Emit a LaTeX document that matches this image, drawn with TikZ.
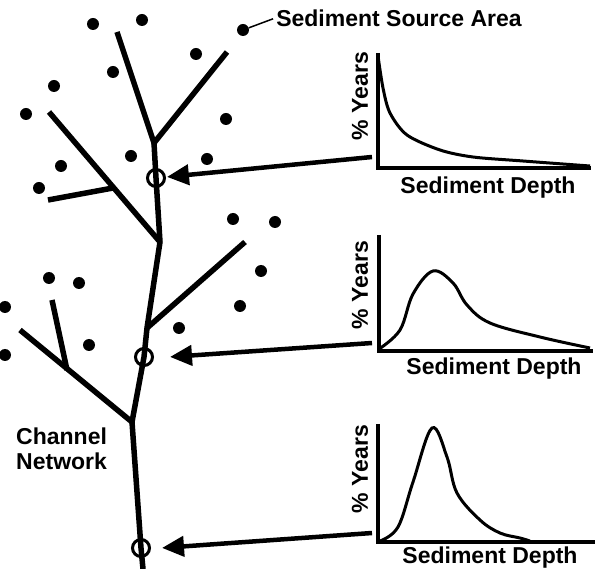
\documentclass[tikz,border=0pt]{standalone}
\usepackage{fontspec}
\setmainfont{Liberation Sans}
\usetikzlibrary{arrows.meta,positioning}

\begin{document}
\begin{tikzpicture}[x=1pt, y=-1pt,
        channel/.style={line width=5.5pt, line join=miter},
        source/.style={circle, fill=black, inner sep=0pt, minimum size=12pt},
        site/.style={circle, draw, line width=3pt, inner sep=0pt, minimum size=17pt},
        feed/.style={line width=4.5pt, -{Triangle[length=22pt, width=20pt]}, shorten >=1pt},
        axis/.style={line width=3.5pt},
        curve/.style={line width=3pt},
        lab/.style={font=\fontsize{23}{25}\selectfont\bfseries, inner sep=0pt}
    ]
        \useasboundingbox (0,0) rectangle (595,569);

        % Channel Network
        \draw[channel] (143,569) -- (141,548) -- (132,422) -- (144,357) -- (147,328) -- (160,242) -- (156,178) -- (154,143);
        \draw[channel] (117,32) -- (154,143) -- (227,52);
        \draw[channel] (49,112) -- (160,242);
        \draw[channel] (48,200) -- (113,188);
        \draw[channel] (245,242) -- (147,328);
        \draw[channel] (20,330) -- (132,422);
        \draw[channel] (52,300) -- (67,370);

        % Sediment sources
        \foreach \x/\y [count=\i] in {93/24, 142/20, 196/54, 113/72, 54/86, 26/114, 226/119,
                131/156, 61/166, 207/159, 39/188, 233/219, 275/222, 261/271,
                49/278, 79/283, 5/307, 240/306, 179/328, 89/345, 5/355}
            \node[source] (s\i) at (\x,\y) {};
        \node[source] (src) at (243,30) {};
        \node[lab, anchor=base] (srclab) at (399,27) {Sediment Source Area};
        \draw[line width=1.5pt] (src) -- ([xshift=-3pt]srclab.west);

        % Sampling sites
        \node[site] (top) at (156,178) {};
        \node[site] (mid) at (144,357) {};
        \node[site] (bot) at (141,548) {};

        % Plots
        \coordinate (o1) at (378,168);
        \coordinate (o2) at (379,351);
        \coordinate (o3) at (378,542);

        \draw[axis] (378,53) -- (o1) -- (591,168);
        \draw[curve] plot[smooth, tension=0.5] coordinates {(378,56) (383,88) (390,113) (407,135) (440,150) (473,157) (523,161) (590,166)};
        \node[lab, rotate=90] (y1) at (360,96) {\% Years};
        \node[lab, anchor=base] (x1) at (488,194) {Sediment Depth};

        \draw[axis] (379,235) -- (o2) -- (593,351);
        \draw[curve] plot[smooth, tension=0.6] coordinates {(379,349) (400,330) (413,294) (433,271) (453,283) (467,305) (490,323) (540,337) (590,348)};
        \node[lab, rotate=90] (y2) at (360,285) {\% Years};
        \node[lab, anchor=base] (x2) at (494,375) {Sediment Depth};

        \draw[axis] (378,424) -- (o3) -- (595,542);
        \draw[curve] plot[smooth, tension=0.6] coordinates {(380,541) (398,527) (413,482) (432,428) (447,457) (457,493) (480,520) (500,533) (520,538) (530,541)};
        \node[lab, rotate=90] (y3) at (360,469) {\% Years};
        \node[lab, anchor=base] (x3) at (490,563) {Sediment Depth};

        % Arrows
        \coordinate (a1) at (372,157);
        \coordinate (a2) at (372,343);
        \coordinate (a3) at (372,533);
        \draw[feed] (a1) -- (top);
        \draw[feed] (a2) -- ([xshift=15pt]mid.east);
        \draw[feed] (a3) -- ([xshift=10pt]bot.east);

        \node[lab, align=left, anchor=west] (net) at (16,449) {Channel\\Network};
    \end{tikzpicture}
\end{document}
